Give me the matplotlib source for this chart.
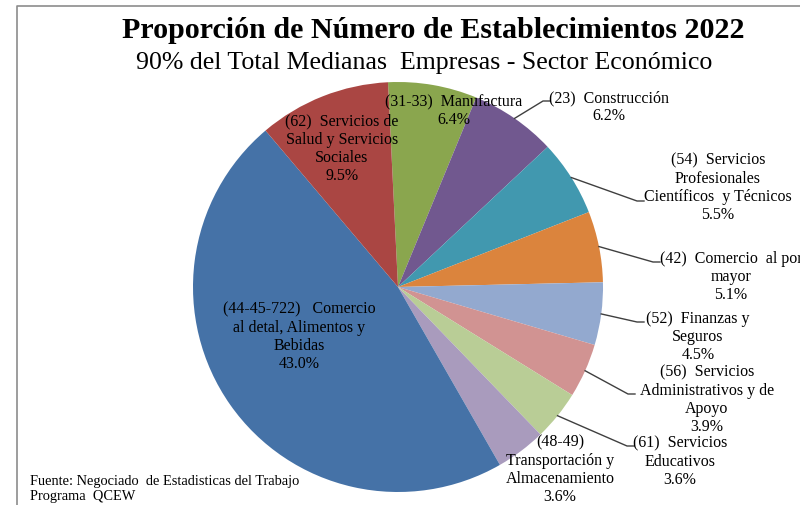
import numpy as np
import matplotlib
matplotlib.use('Agg')
import matplotlib.pyplot as plt

# Data (percent shares shown on the chart), in slice order clockwise from the top
sectores = [
    '(31-33)  Manufactura',
    '(23)  Construcción',
    '(54)  Servicios\nProfesionales\nCientíficos  y Técnicos',
    '(42)  Comercio  al por\nmayor',
    '(52)  Finanzas y\nSeguros',
    '(56)  Servicios\nAdministrativos y de\nApoyo',
    '(61)  Servicios\nEducativos',
    '(48-49)\nTransportación y\nAlmacenamiento',
    '(44-45-722)   Comercio\nal detal, Alimentos y\nBebidas',
    '(62)  Servicios de\nSalud y Servicios\nSociales',
]
porcentajes = [6.4, 6.2, 5.5, 5.1, 4.5, 3.9, 3.6, 3.6, 43.0, 9.5]
colores = ['#8AA64E', '#71588F', '#4198AF', '#DB843D', '#93A9CF',
           '#D19392', '#B9CD96', '#A99BBD', '#4572A7', '#AA4643']

# label block centres (pixels from top-left) and leader elbow points
pos_etiquetas = [(454, 111), (609, 107), (718, 188), (731, 277), (698, 337),
                 (707, 400), (680, 462), (560, 470), (299, 337), (342, 149)]
codos = [None, (543, 102), (637, 202), (653, 263), (637, 323),
         (628, 395), (627, 447), None, None, None]

W, H = 800, 506
fig = plt.figure(figsize=(W / 100, H / 100), dpi=100)
ax = fig.add_axes([0, 0, 1, 1])

plt.rcParams['font.family'] = ['Liberation Serif', 'DejaVu Serif']

def y_(y):
    return H - y

centro = (398, y_(288))
radio = 205
inicio = 92.8
wedges, _ = ax.pie(porcentajes, colors=colores, startangle=inicio,
                   counterclock=False, radius=radio, center=centro,
                   wedgeprops=dict(linewidth=0), frame=True)
ax.set_xlim(0, W)
ax.set_ylim(0, H)
ax.set_aspect('equal')
ax.axis('off')

# chart frame
ax.plot([17, 17, W], [0, y_(7), y_(7)], color='#8C8C8C', lw=1.2, solid_capstyle='butt')

for w, lab, pct, (px, py), codo in zip(wedges, sectores, porcentajes, pos_etiquetas, codos):
    ax.text(px, y_(py), f'{lab}\n{pct:.1f}%', ha='center', va='center',
            fontsize=11.5, linespacing=1.18, color='black')
    if codo is not None:
        ang = np.deg2rad((w.theta1 + w.theta2) / 2)
        sx = centro[0] + radio * np.cos(ang)
        sy = centro[1] + radio * np.sin(ang)
        ex, ey = codo
        ax.plot([sx, ex, ex + 7], [sy, y_(ey), y_(ey)], color='#3F3F3F', lw=1)

fig.text(433 / W, 1 - 30 / H, 'Proporción de Número de Establecimientos 2022',
         ha='center', va='center', fontsize=21.6, fontweight='bold')
fig.text(424 / W, 1 - 63 / H, '90% del Total Medianas  Empresas - Sector Económico',
         ha='center', va='center', fontsize=18.6)
fig.text(30 / W, 1 - 489 / H, 'Fuente: Negociado  de Estadisticas del Trabajo\nPrograma  QCEW',
         ha='left', va='center', fontsize=10.4, linespacing=1.2)

fig.savefig('out.png', dpi=100)
